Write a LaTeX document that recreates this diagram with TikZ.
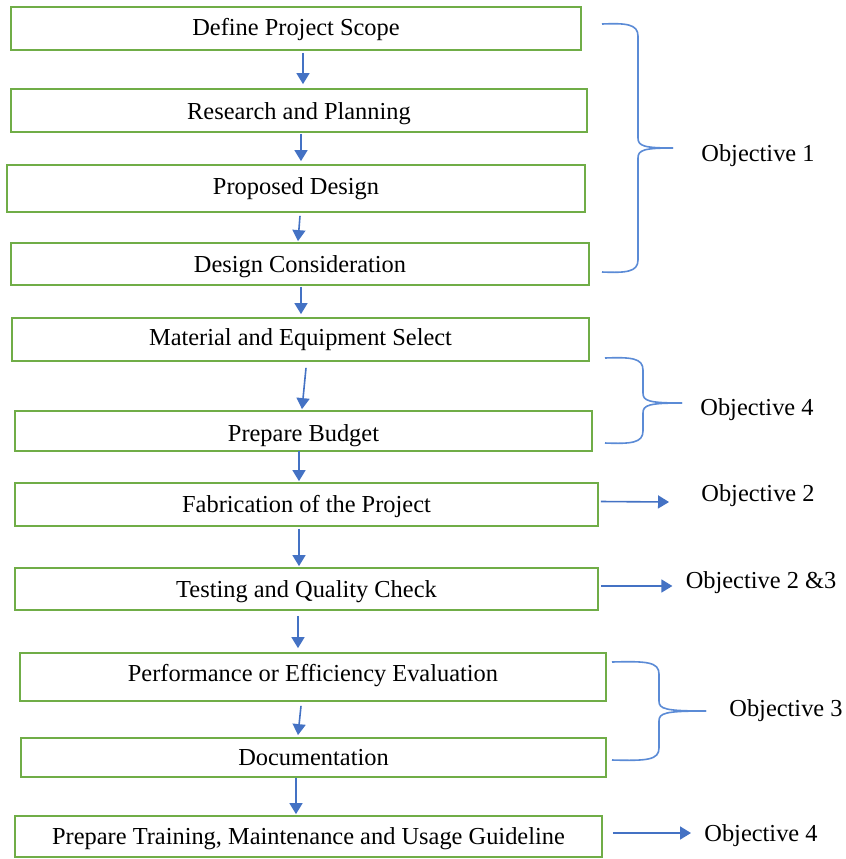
\documentclass[tikz,border=0pt]{standalone}
\usepackage{fontspec}
\setmainfont{Liberation Serif}
\usetikzlibrary{calc,arrows.meta}
\definecolor{boxgreen}{HTML}{70AD47}
\definecolor{arrblue}{HTML}{4472C4}
\definecolor{braceblue}{HTML}{5B8BD6}
\tikzset{
  box/.style={draw=boxgreen, line width=0.9pt, inner sep=0pt, fill=white, font=\fontsize{12.2}{14}\selectfont},
  lower/.style={text height=#1, text depth=2.65pt},
  arr/.style={draw=arrblue, line width=0.8pt, -{Triangle[length=5.5pt,width=6.5pt]}},
  bracepath/.style={draw=braceblue, line width=0.8pt},
  objlabel/.style={inner sep=0pt, font=\fontsize{12.2}{14}\selectfont}
}
\newcommand\mybrace[6]{%
  \draw[bracepath] (#1,#4) .. controls (#2-12,#4-1) and (#2,#4) .. (#2,#4+12) -- (#2,#5-10) .. controls (#2,#5-2) and (#2+6,#5) .. (#3,#5);
  \draw[bracepath] (#3,#5) .. controls (#2+6,#5) and (#2,#5+2) .. (#2,#5+10) -- (#2,#6-12) .. controls (#2,#6) and (#2-12,#6+1) .. (#1,#6);
}
\begin{document}
\begin{tikzpicture}[x=0.5pt,y=-0.5pt]
\path[use as bounding box, fill=white] (0,0) rectangle (846,859);
% boxes
\node[box, lower=9.4pt, minimum width=285pt, minimum height=21.5pt] (b1) at (296,28.5) {Define Project Scope};
\node[box, lower=11.4pt, minimum width=288pt, minimum height=21.5pt] (b2) at (299,110.5) {Research and Planning};
\node[box, minimum width=289pt, minimum height=23.5pt] (b3) at (296,188.5) {Proposed Design};
\node[box, lower=11.4pt, minimum width=289pt, minimum height=21pt] (b4) at (300,264) {Design Consideration};
\node[box, minimum width=288.5pt, minimum height=21.5pt] (b5) at (300.5,339.5) {Material and Equipment Select};
\node[box, lower=13.4pt, minimum width=288.5pt, minimum height=20pt] (b6) at (303.5,431) {Prepare Budget};
\node[box, lower=10.4pt, minimum width=291.5pt, minimum height=21.5pt] (b7) at (306.5,504.5) {Fabrication of the Project};
\node[box, lower=11.4pt, minimum width=291.5pt, minimum height=21pt] (b8) at (306.5,589) {Testing and Quality Check};
\node[box, minimum width=293pt, minimum height=24pt, text height=9pt, text depth=5pt] (b9) at (313,677) {Performance or Efficiency Evaluation};
\node[box, minimum width=292.5pt, minimum height=19.5pt] (b10) at (313.5,757.5) {Documentation};
\node[box, lower=10.4pt, minimum width=293.5pt, minimum height=20.5pt] (b11) at (308.5,836.5) {Prepare Training, Maintenance and Usage Guideline};
% vertical arrows
\draw[arr] ($(b1.south)+(7,2)$) -- ($(b2.north)+(4,-4)$);
\draw[arr] ($(b2.south)+(2,1)$) -- ($(b3.north)+(5,-3)$);
\draw[arr] ($(b3.south)+(4,3)$) -- ($(b4.north)+(-2,-1)$);
\draw[arr] ($(b4.south)+(1,1)$) -- ($(b5.north)+(0.5,-3)$);
\draw[arr] ($(b5.south)+(5.5,6)$) -- ($(b6.north)+(-1.5,-1)$);
\draw[arr] ($(b6.south)+(-4.5,-1)$) -- ($(b7.north)+(-7.5,-1)$);
\draw[arr] ($(b7.south)+(-7.5,2)$) -- ($(b8.north)+(-7.5,-1)$);
\draw[arr] ($(b8.south)+(-8.5,5)$) -- ($(b9.north)+(-15,-4)$);
\draw[arr] ($(b9.south)+(-12,4)$) -- ($(b10.north)+(-15.5,-2)$);
\draw[arr] ($(b10.south)+(-17.5,0)$) -- ($(b11.north)+(-12.5,-1)$);
% objective labels
\node[objlabel] (o1) at (758,156) {Objective 1};
\node[objlabel] (o4a) at (757,410) {Objective 4};
\node[objlabel] (o2) at (758,496) {Objective 2};
\node[objlabel] (o23) at (761,583) {Objective 2 \&3};
\node[objlabel] (o3) at (786,711) {Objective 3};
\node[objlabel] (o4b) at (761,836) {Objective 4};
% braces
\mybrace{602}{638}{673}{24}{148}{272}
\mybrace{605}{643}{682}{358}{403}{443}
\mybrace{612}{659}{706}{662}{711}{760}
% horizontal arrows
\draw[arr] ($(b7.east)+(2,-3)$) -- ($(o2.west)+(-32,6)$);
\draw[arr] ($(b8.east)+(2,-3)$) -- ($(o23.west)+(-13,3)$);
\draw[arr] ($(b11.east)+(10,-3.5)$) -- ($(o4b.west)+(-13,-3)$);
\end{tikzpicture}
\end{document}
